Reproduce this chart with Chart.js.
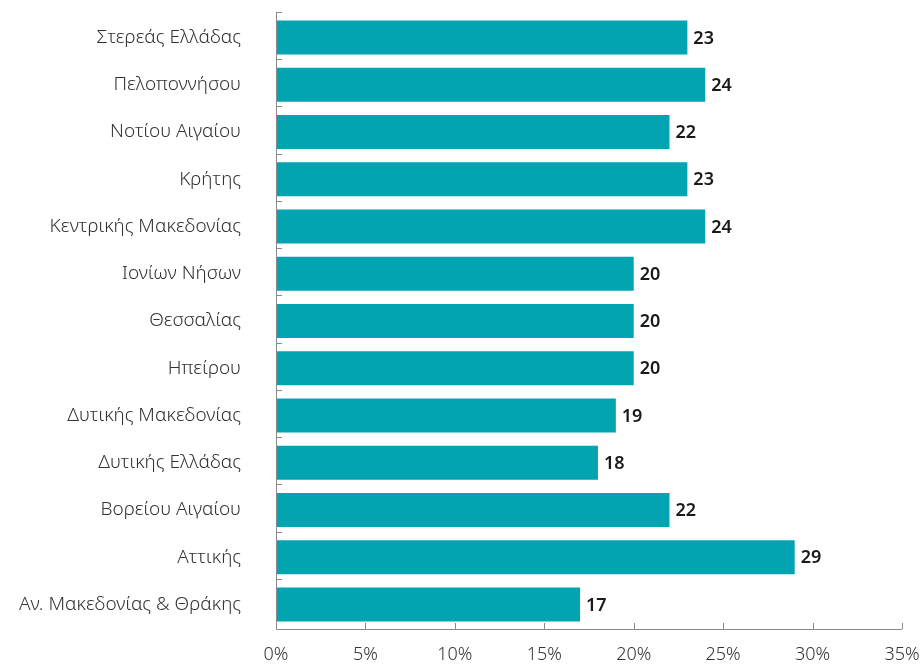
<!DOCTYPE html>
<html>
<head>
<meta charset="utf-8">
<script src="https://cdn.jsdelivr.net/npm/chart.js@4/dist/chart.umd.min.js"></script>
<style>
  html, body { margin: 0; padding: 0; background: #fff; }
  #wrap { width: 922px; height: 666px; }
</style>
</head>
<body>
<div id="wrap"><canvas id="chart"></canvas></div>
<script>
const regions = [
  "Στερεάς Ελλάδας",
  "Πελοποννήσου",
  "Νοτίου Αιγαίου",
  "Κρήτης",
  "Κεντρικής Μακεδονίας",
  "Ιονίων Νήσων",
  "Θεσσαλίας",
  "Ηπείρου",
  "Δυτικής Μακεδονίας",
  "Δυτικής Ελλάδας",
  "Βορείου Αιγαίου",
  "Αττικής",
  "Αν. Μακεδονίας & Θράκης"
]
const shares = [23, 24, 22, 23, 24, 20, 20, 20, 19, 18, 22, 29, 17]
const xTicks = [0, 5, 10, 15, 20, 25, 30, 35]

const FONT = "'Noto Sans', sans-serif"
const AXIS = "#8a8a8a"

// axis lines with short inward tick marks, plus value labels at bar ends
const decorations = {
  id: "decorations",
  afterDatasetsDraw(chart) {
    const { ctx, chartArea: a, scales: { x } } = chart
    ctx.save()
    ctx.strokeStyle = AXIS
    ctx.lineWidth = 1
    ctx.beginPath()
    ctx.moveTo(a.left + 0.5, a.top - 2)
    ctx.lineTo(a.left + 0.5, a.bottom + 1.5)
    ctx.lineTo(a.right, a.bottom + 1.5)
    xTicks.forEach(v => {
      const px = Math.round(x.getPixelForValue(v)) + 0.5
      ctx.moveTo(px, a.bottom + 1)
      ctx.lineTo(px, a.bottom - 5)
    })
    const step = (a.bottom - a.top) / regions.length
    for (let i = 0; i < regions.length; i++) {
      const py = Math.round(a.top + i * step) - 1.5
      ctx.moveTo(a.left, py)
      ctx.lineTo(a.left + 6, py)
    }
    ctx.stroke()

    ctx.fillStyle = "#1a1a1a"
    ctx.font = "600 18px " + FONT
    ctx.textBaseline = "middle"
    ctx.textAlign = "left"
    chart.getDatasetMeta(0).data.forEach((bar, i) => {
      ctx.fillText(String(shares[i]), bar.x + 6, bar.y + 1)
    })
    ctx.restore()
  }
}

new Chart(document.getElementById("chart"), {
  type: "bar",
  data: {
    labels: regions,
    datasets: [{
      data: shares,
      backgroundColor: "#02a4b1",
      barPercentage: 0.72,
      categoryPercentage: 1
    }]
  },
  options: {
    indexAxis: "y",
    responsive: true,
    maintainAspectRatio: false,
    animation: false,
    layout: { padding: { top: 14, right: 20, bottom: 0, left: 0 } },
    plugins: {
      legend: { display: false },
      tooltip: { enabled: false }
    },
    scales: {
      x: {
        min: 0,
        max: 35,
        afterBuildTicks: s => { s.ticks = xTicks.map(v => ({ value: v })) },
        afterFit: s => { s.height = 38 },
        grid: { display: false, drawTicks: true, tickLength: 16 },
        border: { display: false },
        ticks: {
          padding: 0,
          color: "#333",
          font: { family: FONT, size: 18, weight: "300" },
          callback: v => v + "%"
        }
      },
      y: {
        afterFit: s => { s.width = 276 },
        grid: { display: false, drawTicks: true, tickLength: 35 },
        border: { display: false },
        ticks: {
          padding: 0,
          color: "#333",
          font: { family: FONT, size: 19, weight: "300" }
        }
      }
    }
  },
  plugins: [decorations]
})
</script>
</body>
</html>
